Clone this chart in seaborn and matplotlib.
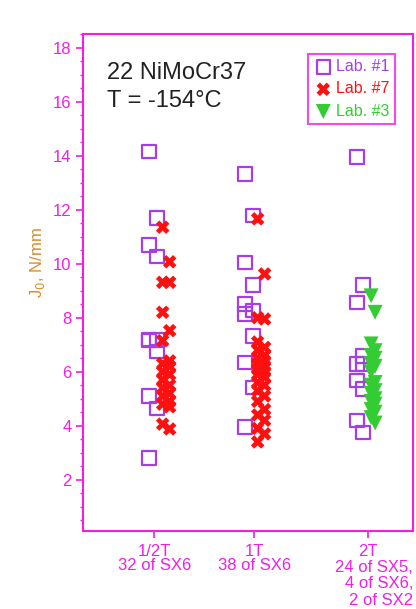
# Nuage de points J0 par taille d'éprouvette - 22 NiMoCr37, T = -154°C
import numpy as np
import pandas as pd
import matplotlib
matplotlib.use("Agg")
import matplotlib.pyplot as plt
from matplotlib.ticker import MultipleLocator
import matplotlib.transforms as mtransforms
import seaborn as sns

# Données
categories = ["1/2T\n32 of SX6", "1T\n38 of SX6", "2T"]
note_2t = "24 of SX5,\n4 of SX6,\n2 of SX2"

lab1_half = [14.16, 11.69, 10.69, 10.27, 7.2, 7.17, 7.15, 6.74, 5.11, 4.64, 2.8]
lab1_1t = [13.32, 11.78, 10.05, 9.21, 8.51, 8.26, 8.14, 7.33, 6.34, 5.42, 3.96]
lab1_2t = [13.94, 9.21, 8.57, 6.59, 6.28, 6.28, 5.67, 5.36, 4.19, 3.75]

lab7_half = [11.35, 10.07, 9.31, 9.31, 8.2, 7.52, 7.15, 6.4, 6.3, 6.2, 6.0, 5.9, 5.7,
             5.5, 5.4, 5.2, 5.1, 4.9, 4.8, 4.7, 4.06, 3.88]
lab7_1t = [11.66, 9.62, 8.0, 7.95, 7.1, 6.9, 6.8, 6.6, 6.5, 6.4, 6.3, 6.2, 6.1, 6.0,
           5.9, 5.8, 5.6, 5.5, 5.3, 5.1, 4.9, 4.6, 4.4, 4.2, 3.9, 3.7, 3.4]

lab3_2t = [8.81, 8.2, 7.03, 6.78, 6.6, 6.5, 6.3, 6.2, 6.0, 5.6, 5.5, 5.3, 5.2, 5.0,
           4.9, 4.8, 4.6, 4.5, 4.3, 4.1]

# Position des catégories sur l'axe x (espacement non régulier)
xpos = [1.54, 2.54, 3.68]

MAGENTA = "#f01ee6"
PURPLE = "#a53ee8"
RED = "#ff1010"
GREEN = "#33cc33"
ORANGE = "#d98a2b"


def build_df(values, icat, offset, jit):
    # léger décalage alterné pour éviter la superposition
    x = [xpos[icat] + offset + (jit if i % 2 else -jit) for i in range(len(values))]
    return pd.DataFrame({"x": x, "J0": values})


df1 = pd.concat([build_df(lab1_half, 0, -0.01, 0.04),
                 build_df(lab1_1t, 1, -0.05, 0.04),
                 build_df(lab1_2t, 2, -0.08, 0.03)])
df7 = pd.concat([build_df(lab7_half, 0, 0.12, 0.035),
                 build_df(lab7_1t, 1, 0.07, 0.035)])
df3 = build_df(lab3_2t, 2, 0.05, 0.02)

sns.set_style("white")
plt.rcParams["font.family"] = ["Liberation Sans", "DejaVu Sans"]

fig = plt.figure(figsize=(4.16, 6.09), dpi=100)
ax = fig.add_axes([0.2, 0.128, 0.793, 0.816])

sns.scatterplot(data=df1, x="x", y="J0", ax=ax, marker="s", s=95,
                facecolor="none", edgecolor=PURPLE, linewidth=1.6, label="Lab. #1")
sns.scatterplot(data=df7, x="x", y="J0", ax=ax, marker="X", s=95,
                color=RED, edgecolor="none", linewidth=0, label="Lab. #7")
sns.scatterplot(data=df3, x="x", y="J0", ax=ax, marker="v", s=115,
                color=GREEN, edgecolor="none", linewidth=0, label="Lab. #3")

ax.set_xlim(0.83, 4.13)
ax.set_ylim(0.1, 18.5)
ax.set_xticks(xpos)
ax.set_xticklabels(categories, linespacing=0.95)
ax.set_yticks(range(2, 19, 2))
ax.yaxis.set_minor_locator(MultipleLocator(0.5))

ax.tick_params(axis="both", colors=MAGENTA, labelsize=12, direction="out")
ax.tick_params(axis="y", which="major", length=5, width=1.2, left=True)
ax.tick_params(axis="y", which="minor", length=2.5, width=1, colors=MAGENTA, left=True)
ax.tick_params(axis="x", length=5, width=1.2, bottom=True, pad=4)
for lbl in ax.get_xticklabels() + ax.get_yticklabels():
    lbl.set_color(MAGENTA)

# texte sous "2T", aligné à droite
trans = mtransforms.blended_transform_factory(ax.transAxes, fig.transFigure)
ax.text(1.0, 1 - 560 / 609, note_2t, transform=trans, ha="right", va="top",
        fontsize=12, color=MAGENTA, linespacing=1.12, multialignment="right")

for sp in ax.spines.values():
    sp.set_color(MAGENTA)
    sp.set_linewidth(1.5)

ax.set_xlabel("")
ax.set_ylabel("J$_0$, N/mm", color=ORANGE, fontsize=12)
ax.yaxis.set_label_coords(-0.11, 0.54)

ax.text(0.073, 0.944, "22 NiMoCr37\nT = -154°C", transform=ax.transAxes,
        fontsize=17, color="#222222", va="top", ha="left", linespacing=1.38)

leg = ax.legend(loc="upper right", bbox_to_anchor=(0.955, 0.967), fontsize=11.5,
                frameon=True, fancybox=False, handletextpad=0.2, borderpad=0.35,
                labelspacing=0.45, handlelength=1.2, borderaxespad=0.2)
leg.get_frame().set_edgecolor(MAGENTA)
leg.get_frame().set_linewidth(1.5)
for txt, col in zip(leg.get_texts(), [PURPLE, RED, GREEN]):
    txt.set_color(col)

fig.savefig("out.png", dpi=100)
